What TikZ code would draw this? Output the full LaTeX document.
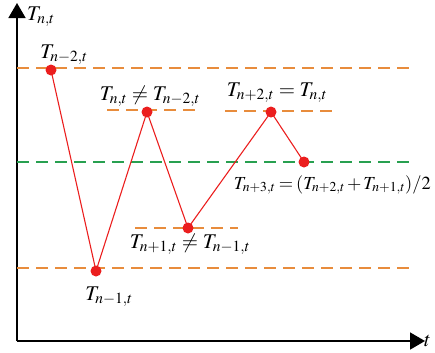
\documentclass[tikz,border=0pt]{standalone}
\usepackage{mathptmx}
\usetikzlibrary{arrows.meta}
\definecolor{dorange}{RGB}{232,140,60}
\definecolor{dgreen}{RGB}{40,160,80}
\definecolor{dred}{RGB}{235,30,30}
\begin{document}
\begin{tikzpicture}[x=1bp,y=-1bp,
  axisline/.style={line width=1.6pt,-{Triangle[length=15bp,width=17bp]}},
  olevel/.style={dorange,line width=1.2pt,dash pattern=on 12bp off 7bp},
  glevel/.style={dgreen,line width=1.2pt,dash pattern=on 12bp off 7bp},
  pt/.style={circle,fill=dred,inner sep=0pt,minimum size=11bp},
  seg/.style={dred,line width=1.1pt},
  lbl/.style={inner sep=0pt,font=\fontsize{21}{25}\selectfont},
  lbls/.style={inner sep=0pt,font=\fontsize{18.5}{22}\selectfont}]
\useasboundingbox (0,0) rectangle (435,352);
% axes
\coordinate (O) at (17,341);
\coordinate (Ytop) at (17,3);
\coordinate (Xend) at (425,341);
\draw[axisline] (O) -- (Ytop);
\draw[axisline] (O) -- (Xend);
\node[lbl,anchor=west] (ylab) at (27,17) {$T_{n,t}$};
\node[lbl,anchor=west] (xlab) at (424,341) {$t$};
% level lines
\coordinate (a1) at (17,68); \coordinate (a2) at (412,68);
\coordinate (b1) at (17,268); \coordinate (b2) at (412,268);
\coordinate (g1) at (17,162); \coordinate (g2) at (412,162);
\draw[olevel] (a1) -- (a2);
\draw[olevel] (b1) -- (b2);
\draw[glevel] (g1) -- (g2);
\coordinate (c1) at (107,110); \coordinate (c2) at (196,110);
\coordinate (d1) at (135,228); \coordinate (d2) at (238,228);
\coordinate (e1) at (225,111); \coordinate (e2) at (332,111);
\draw[olevel] (c1) -- (c2);
\draw[olevel] (d1) -- (d2);
\draw[olevel] (e1) -- (e2);
% points
\node[pt] (p1) at (51,70) {};
\node[pt] (p2) at (96,271) {};
\node[pt] (p3) at (147,112) {};
\node[pt] (p4) at (188,228) {};
\node[pt] (p5) at (271,112) {};
\node[pt] (p6) at (304,162) {};
\draw[seg] (p1.center) -- (p2.center) -- (p3.center) -- (p4.center) -- (p5.center) -- (p6.center);
% labels
\node[lbl] (l1) at (64,55) {$T_{n-2,t}$};
\node[lbl] (l2) at (109,297) {$T_{n-1,t}$};
\node[lbl] (l3) at (150,96) {$T_{n,t}\neq T_{n-2,t}$};
\node[lbl] (l4) at (190,244) {$T_{n+1,t}\neq T_{n-1,t}$};
\node[lbl] (l5) at (277,93) {$T_{n+2,t}=T_{n,t}$};
\node[lbls,anchor=east] (l6) at (431,185) {$\medmuskip=2mu\thickmuskip=3mu T_{n+3,t}=(T_{n+2,t}+T_{n+1,t})/2$};
\end{tikzpicture}
\end{document}
